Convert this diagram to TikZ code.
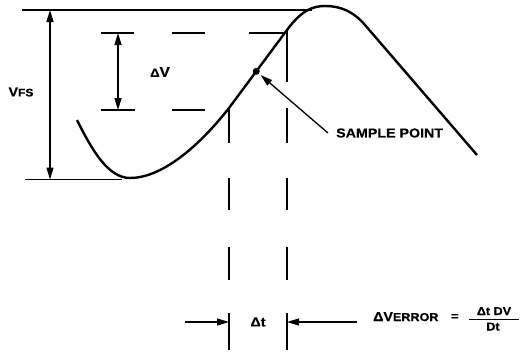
\documentclass[tikz,border=0pt]{standalone}
\usepackage{fontspec}
\setmainfont{Liberation Sans}[FakeStretch=1.1, BoldFeatures={FakeBold=0.6}]
\usetikzlibrary{calc,arrows.meta}

\begin{document}
\begin{tikzpicture}[
    x=1bp, y=-1bp,
    >={Triangle[length=12bp,width=7bp]},
    % Styling for lines and labels
    wave/.style={line width=2.4bp, line join=round},
    dim/.style={line width=1.3bp},
    lbl/.style={font=\bfseries\fontsize{13}{15}\selectfont, inner sep=0pt},
    small/.style={font=\bfseries\fontsize{11.5}{13}\selectfont, inner sep=0pt},
    dot/.style={circle, fill=black, inner sep=0pt, minimum size=7bp}
]
    \useasboundingbox (0,0) rectangle (525,354);

    % Sampled waveform
    \coordinate (w0)   at (77,120);
    \coordinate (wmin) at (130,178);
    \coordinate (wa)   at (229,108);
    \coordinate (wb)   at (287,30);
    \coordinate (wpk)  at (325,6);
    \coordinate (wc)   at (365,25);
    \coordinate (wend) at (477,155);
    \draw[wave] (w0) .. controls (92,150) and (108,178) .. (wmin)
        .. controls (160,178) and (196,150) .. (wa) -- (wb)
        .. controls (301,11) and (312,6) .. (wpk)
        .. controls (340,6) and (353,11) .. (wc) -- (wend);

    % Full scale limits
    \coordinate (topL) at (22,10);
    \coordinate (topR) at (312,10);
    \coordinate (botL) at (25,179.5);
    \coordinate (botR) at (122,179.5);
    \draw[dim] (topL) -- (topR);
    \draw[dim] (botL) -- (botR);
    \coordinate (fsT) at (50,10);
    \coordinate (fsB) at (50,179.5);
    \draw[dim, <->] (fsT) -- (fsB);
    \node[lbl] (VFS) at (21,92) {V{\fontsize{11}{12}\selectfont FS}};

    % Delta V band
    \coordinate (dvT) at (118,33);
    \coordinate (dvB) at (118,110);
    \draw[dim] (101,33) -- (134,33);
    \draw[dim] (101,110) -- (135,110);
    \draw[dim, <->] (dvT) -- (dvB);
    \node[lbl, font=\bfseries\fontsize{14}{16}\selectfont] (DV) at (160,72)
        {{\fontsize{12}{14}\selectfont Δ}V};
    \draw[dim] (172,33) -- (205,33);
    \draw[dim] (249,33) -- (285,33);
    \draw[dim] (172,110) -- (205,110);

    % Time window guides
    \draw[dim] (287,30) -- (287,82);
    \foreach \ya/\yb in {108/143, 178/210, 247/280, 313/350} {
        \draw[dim] (229,\ya) -- (229,\yb);
        \draw[dim] (287,\ya) -- (287,\yb);
    }

    % Sample point
    \node[dot] (SP) at ($(wa)!0.47!(wb)$) {};
    \coordinate (spTail) at (328,133);
    \node[lbl, anchor=west] (SPlbl) at (336,133) {SAMPLE POINT};
    \draw[dim, ->, shorten >=2bp] (spTail) -- (SP);

    % Delta t markers
    \coordinate (tL) at (229,322);
    \coordinate (tR) at (287,322);
    \coordinate (arL) at (185,322);
    \coordinate (arR) at (357,322);
    \draw[dim, ->] (arL) -- (tL);
    \draw[dim, ->] (arR) -- (tR);
    \node[lbl] (DT) at (258,322) {Δt};

    % Error formula
    \node[lbl, anchor=base west] (ERR) at (373,321)
        {ΔV{\fontsize{11.5}{13}\selectfont ERROR}};
    \node[small, anchor=base west] (EQ) at (451,320) {=};
    \node[small, anchor=base] (NUM) at (494,315) {Δt DV};
    \node[small, anchor=base] (DEN) at (493,330.5) {Dt};
    \coordinate (barL) at (469,319.5);
    \coordinate (barR) at (519,319.5);
    \draw[dim] (barL) -- (barR);

\end{tikzpicture}
\end{document}
